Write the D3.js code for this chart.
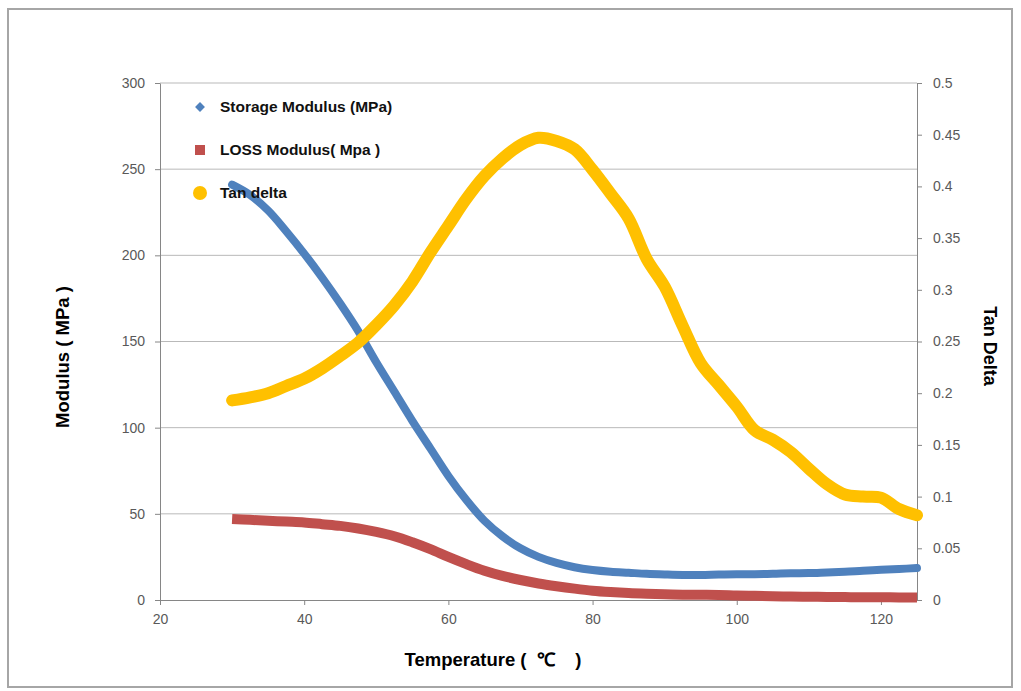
<!DOCTYPE html>
<html>
<head>
<meta charset="utf-8">
<script src="https://cdn.jsdelivr.net/npm/d3@7"></script>
<style>
  body { margin: 0; background: #fff; }
  svg { display: block; font-family: "Liberation Sans", Arial, sans-serif; }
</style>
</head>
<body>
<svg id="chart"></svg>
<script>
// temperature (°C) readings
const temperature = [30, 32.5, 35, 37.5, 40, 42.5, 45, 47.5, 50, 52.5, 55, 57.5, 60, 62.5, 65, 67.5, 70, 72.5, 75, 77.5,
  80, 82.5, 85, 87.5, 90, 92.5, 95, 97.5, 100, 102.5, 105, 107.5, 110, 112.5, 115, 117.5, 120, 122.5, 125];

const storageModulus = [241, 235, 226, 214, 201, 187, 172, 156, 138, 121, 104, 88, 72, 58, 46, 37, 30, 25, 21.5, 19,
  17.4, 16.4, 15.8, 15.2, 14.8, 14.5, 14.5, 14.8, 15, 15, 15.2, 15.5, 15.6, 16, 16.4, 17, 17.5, 18, 18.5];

const lossModulus = [47, 46.5, 46, 45.5, 45, 44, 43, 41.5, 39.5, 37, 33.5, 29.5, 25, 20.8, 17, 14, 11.6, 9.6, 8, 6.6,
  5.4, 4.6, 4, 3.6, 3.3, 3.1, 3, 2.9, 2.6, 2.4, 2.2, 2, 1.9, 1.8, 1.7, 1.6, 1.6, 1.5, 1.5];

const tanDelta = [0.193, 0.196, 0.2, 0.207, 0.214, 0.224, 0.236, 0.249, 0.266, 0.285, 0.308, 0.336, 0.362, 0.388, 0.41,
  0.427, 0.44, 0.447, 0.444, 0.436, 0.416, 0.393, 0.369, 0.33, 0.303, 0.265, 0.229, 0.208, 0.187, 0.164, 0.155,
  0.143, 0.127, 0.112, 0.102, 0.1, 0.099, 0.088, 0.082];

const xTicks = [20, 40, 60, 80, 100, 120];
const leftTicks = [0, 50, 100, 150, 200, 250, 300];
const rightTicks = [0, 0.05, 0.1, 0.15, 0.2, 0.25, 0.3, 0.35, 0.4, 0.45, 0.5];

const seriesNames = ['Storage Modulus (MPa)', 'LOSS Modulus( Mpa )', 'Tan delta'];

const width = 1021, height = 691;
const margin = { top: 83, right: 104, bottom: 91, left: 160 };
const innerW = width - margin.left - margin.right;
const innerH = height - margin.top - margin.bottom;

const svg = d3.select('#chart')
  .attr('width', width)
  .attr('height', height);

// outer frame
svg.append('rect')
  .attr('x', 8).attr('y', 9)
  .attr('width', 1004).attr('height', 678)
  .attr('fill', 'none')
  .attr('stroke', '#a6a6a6')
  .attr('stroke-width', 2);

const g = svg.append('g')
  .attr('transform', `translate(${margin.left},${margin.top})`);

const x = d3.scaleLinear().domain([20, 125]).range([0, innerW]);
const y = d3.scaleLinear().domain([0, 300]).range([innerH, 0]);
const y2 = d3.scaleLinear().domain([0, 0.5]).range([innerH, 0]);

const axisColor = '#868686';
const labelColor = '#595959';

// gridlines
g.append('g')
  .selectAll('line')
  .data(leftTicks.filter(d => d > 0))
  .join('line')
  .attr('x1', 0).attr('x2', innerW)
  .attr('y1', d => y(d)).attr('y2', d => y(d))
  .attr('stroke', '#b9b9b9')
  .attr('stroke-width', 1);

// axes
const styleAxis = sel => {
  sel.select('.domain').attr('stroke', axisColor);
  sel.selectAll('.tick line').attr('stroke', axisColor);
  sel.selectAll('.tick text')
    .attr('fill', labelColor)
    .style('font-size', '14px');
};

g.append('g')
  .attr('transform', `translate(0,${innerH})`)
  .call(d3.axisBottom(x).tickValues(xTicks).tickSize(5).tickSizeOuter(0).tickPadding(9))
  .call(styleAxis);

g.append('g')
  .call(d3.axisLeft(y).tickValues(leftTicks).tickSize(5).tickSizeOuter(0).tickPadding(10))
  .call(styleAxis);

g.append('g')
  .attr('transform', `translate(${innerW},0)`)
  .call(d3.axisRight(y2).tickValues(rightTicks).tickFormat(d3.format('~g')).tickSize(5).tickSizeOuter(0).tickPadding(11))
  .call(styleAxis);

// series
const rows = temperature.map((t, i) => ({ t, s: storageModulus[i], l: lossModulus[i], d: tanDelta[i] }));

const lineS = d3.line().x(d => x(d.t)).y(d => y(d.s)).curve(d3.curveCatmullRom);
const lineL = d3.line().x(d => x(d.t)).y(d => y(d.l)).curve(d3.curveCatmullRom);
const lineD = d3.line().x(d => x(d.t)).y(d => y2(d.d)).curve(d3.curveCatmullRom);

g.append('path')
  .datum(rows)
  .attr('fill', 'none')
  .attr('stroke', '#C0504D')
  .attr('stroke-width', 10)
  .attr('d', lineL);

g.append('path')
  .datum(rows)
  .attr('fill', 'none')
  .attr('stroke', '#4F81BD')
  .attr('stroke-width', 8)
  .attr('stroke-linecap', 'round')
  .attr('d', lineS);

g.append('path')
  .datum(rows)
  .attr('fill', 'none')
  .attr('stroke', '#FFC000')
  .attr('stroke-width', 12)
  .attr('stroke-linecap', 'round')
  .attr('stroke-linejoin', 'round')
  .attr('d', lineD);

// legend
const legend = svg.append('g').attr('transform', 'translate(200,107)');
const colors = ['#4F81BD', '#C0504D', '#FFC000'];
const items = legend.selectAll('g')
  .data(seriesNames)
  .join('g')
  .attr('transform', (d, i) => `translate(0,${i * 43})`);

items.each(function (d, i) {
  const it = d3.select(this);
  if (i === 0) {
    it.append('rect').attr('x', -3.5).attr('y', -3.5).attr('width', 7).attr('height', 7)
      .attr('transform', 'rotate(45)').attr('fill', colors[i]);
  } else if (i === 1) {
    it.append('rect').attr('x', -5).attr('y', -5).attr('width', 10).attr('height', 10).attr('fill', colors[i]);
  } else {
    it.append('circle').attr('r', 7).attr('fill', colors[i]);
  }
});

items.append('text')
  .attr('x', 20)
  .attr('dy', '0.35em')
  .style('font-size', '15.5px')
  .style('font-weight', 'bold')
  .attr('fill', '#111')
  .text(d => d);

// axis titles
svg.append('text')
  .attr('transform', `translate(69,357) rotate(-90)`)
  .attr('text-anchor', 'middle')
  .style('font-size', '18.5px')
  .style('font-weight', 'bold')
  .text('Modulus ( MPa )');

svg.append('text')
  .attr('transform', `translate(984,346) rotate(90)`)
  .attr('text-anchor', 'middle')
  .style('font-size', '18px')
  .style('font-weight', 'bold')
  .text('Tan Delta');

svg.append('text')
  .attr('x', 493)
  .attr('y', 666)
  .attr('text-anchor', 'middle')
  .style('font-size', '18.5px')
  .style('font-weight', 'bold')
  .style('white-space', 'pre')
  .text('Temperature (  \u2103    )');
</script>
</body>
</html>
